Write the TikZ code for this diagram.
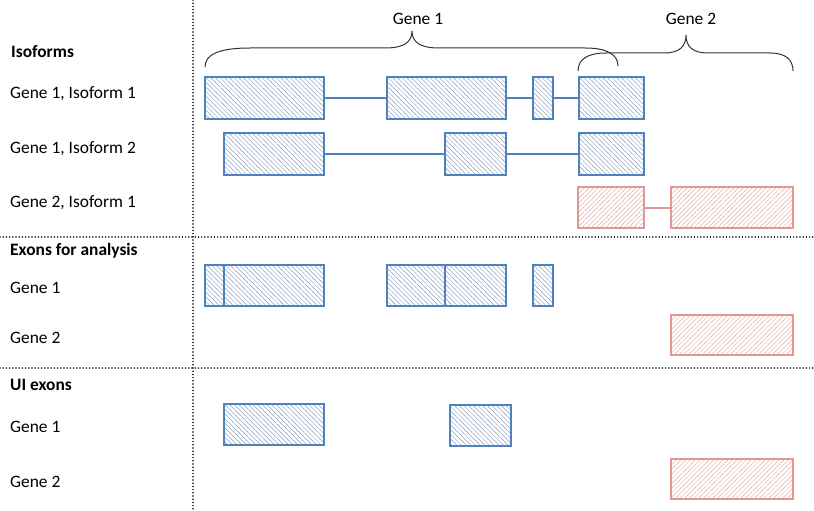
\documentclass[tikz,border=0pt]{standalone}
\usepackage{fontspec}
\setmainfont{Carlito}
\usetikzlibrary{patterns.meta}
\definecolor{bluebd}{RGB}{79,129,189}
\definecolor{bluehatch}{RGB}{135,160,195}
\definecolor{redbd}{RGB}{226,150,150}
\definecolor{redhatch}{RGB}{230,170,170}
\tikzset{
  exonbase/.style={anchor=north west, inner sep=0pt, outer sep=0pt, line width=2.2pt},
  blueexon/.style={exonbase, draw=bluebd, pattern={Lines[angle=-45,distance=3.3pt,line width=0.5pt]}, pattern color=bluehatch},
  redexon/.style={exonbase, draw=redbd, pattern={Lines[angle=45,distance=3.3pt,line width=0.5pt]}, pattern color=redhatch},
  blueline/.style={draw=bluebd, line width=2pt},
  redline/.style={draw=redbd, line width=2pt},
  sep/.style={draw=black, line width=1.7pt, line cap=round, dash pattern=on 0pt off 3.2pt},
  lab/.style={anchor=west, inner sep=0pt, font=\fontsize{17.4}{19}\selectfont},
  head/.style={lab, font=\fontsize{17.4}{19}\selectfont\bfseries},
  brace/.style={draw=black!80, line width=1pt},
  genelab/.style={inner sep=0pt, font=\fontsize{17.4}{19}\selectfont}
}
\newcommand\exon[6]{\node[#2, minimum width={#5pt-#3pt}, minimum height={#6pt-#4pt}] (#1) at (#3,#4) {};}
\begin{document}
\begin{tikzpicture}[x=1pt,y=-1pt]
\useasboundingbox (0,0) rectangle (814,511);
% separators
\coordinate (vt) at (193,0); \coordinate (vb) at (193,511);
\coordinate (h1l) at (0,237); \coordinate (h1r) at (814,237);
\coordinate (h2l) at (0,368); \coordinate (h2r) at (814,368);
\draw[sep] (vt) -- (vb);
\draw[sep] (h1l) -- (h1r);
\draw[sep] (h2l) -- (h2r);
% labels
\node[head] (tIso) at (11,52) {Isoforms};
\node[lab] (tG1I1) at (10,94) {Gene 1, Isoform 1};
\node[lab] (tG1I2) at (10,149) {Gene 1, Isoform 2};
\node[lab] (tG2I1) at (10,203) {Gene 2, Isoform 1};
\node[head] (tEx) at (10,251) {Exons for analysis};
\node[lab] (tEG1) at (10,288) {Gene 1};
\node[lab] (tEG2) at (10,338) {Gene 2};
\node[head] (tUI) at (10,385) {UI exons};
\node[lab] (tUG1) at (10,427) {Gene 1};
\node[lab] (tUG2) at (10,482) {Gene 2};
% braces
\draw[brace] (205,67) .. controls (205,54) and (220,48) .. (250,48) -- (385,48)
  .. controls (404,48) and (412,42) .. (412,31) .. controls (412,42) and (420,48) .. (439,48)
  -- (585,48) .. controls (608,48) and (618,55) .. (618,66);
\draw[brace] (578,71) .. controls (578,59) and (588,53) .. (606,53) -- (664,53)
  .. controls (680,53) and (686,46) .. (686,35) .. controls (686,46) and (692,53) .. (708,53)
  -- (770,53) .. controls (786,53) and (793,60) .. (793,71);
\node[genelab] (tGene1) at (418,19) {Gene 1};
\node[genelab] (tGene2) at (691,19) {Gene 2};
% Gene 1 isoform 1
\exon{a1}{blueexon}{205}{77}{324}{119}
\exon{a2}{blueexon}{387}{77}{506}{119}
\exon{a3}{blueexon}{533}{77}{553}{119}
\exon{a4}{blueexon}{579}{77}{644}{119}
\draw[blueline] (a1.east) -- (a2.west);
\draw[blueline] (a2.east) -- (a3.west);
\draw[blueline] (a3.east) -- (a4.west);
% Gene 1 isoform 2
\exon{b1}{blueexon}{224}{133}{324}{175}
\exon{b2}{blueexon}{445}{133}{506}{175}
\exon{b3}{blueexon}{579}{133}{644}{175}
\draw[blueline] (b1.east) -- (b2.west);
\draw[blueline] (b2.east) -- (b3.west);
% Gene 2 isoform 1
\exon{c1}{redexon}{578}{187}{644}{228}
\exon{c2}{redexon}{671}{187}{793}{228}
\draw[redline] (c1.east) -- (c2.west);
% Exons for analysis
\exon{d1}{blueexon}{205}{265}{224}{306}
\exon{d2}{blueexon}{224}{265}{324}{306}
\exon{d3}{blueexon}{387}{265}{445}{306}
\exon{d4}{blueexon}{445}{265}{506}{306}
\exon{d5}{blueexon}{533}{265}{553}{306}
\exon{e1}{redexon}{671}{315}{793}{355}
% UI exons
\exon{f1}{blueexon}{224}{404}{324}{445}
\exon{f2}{blueexon}{450}{405}{511}{446}
\exon{g1}{redexon}{671}{459}{793}{499}
\end{tikzpicture}
\end{document}
